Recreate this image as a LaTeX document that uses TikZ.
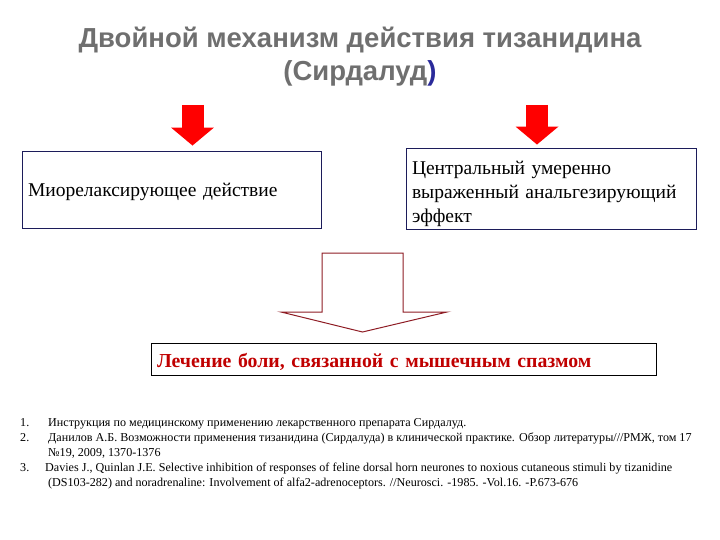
\documentclass[tikz,border=0pt]{standalone}
\usepackage{fontspec}
\setmainfont{Liberation Serif}
\newfontfamily\titlefont{Liberation Sans}
\usetikzlibrary{arrows.meta}
\definecolor{titlegray}{HTML}{6F6F6F}
\definecolor{boxnavy}{HTML}{1C1C5A}
\definecolor{hollowred}{HTML}{8E1C24}
\definecolor{textred}{HTML}{C00000}
\definecolor{parenblue}{HTML}{2A2A9A}
\begin{document}
\begin{tikzpicture}[x=1pt,y=1pt,
  topbox/.style={draw=boxnavy, line width=0.9pt, rectangle, inner sep=0pt},
  boxtext/.style={inner xsep=0pt, inner ysep=0pt, align=left, font=\fontsize{19.5}{24}\selectfont},
  redarrow/.style={draw=red, line width=22pt, -{Triangle[width=42pt,length=18pt]}, red},
  hollow/.style={draw=hollowred, line width=1pt, line join=miter},
  resbox/.style={draw=black, line width=0.9pt, rectangle, inner sep=0pt, minimum width=505pt, minimum height=32pt},
  restext/.style={inner sep=0pt, text width=493pt, align=left, font=\fontsize{19.8}{22}\selectfont\bfseries, text=textred},
  refnum/.style={anchor=base west, inner sep=0pt, font=\fontsize{12.1}{12}\selectfont},
  reftext/.style={anchor=base west, inner sep=0pt, font=\fontsize{12.1}{12}\selectfont}
]
\useasboundingbox (0,0) rectangle (720,-540);

% title
\node[font=\titlefont\bfseries\fontsize{27.5}{33}\selectfont, text=titlegray, align=center] (title) at (360,-57)
  {Двойной механизм действия тизанидина\\(Сирдалуд{\color{parenblue})}};

% boxes
\node[topbox, minimum width=299pt, minimum height=77pt] (lbox) at (171.5,-189.5) {};
\node[boxtext, text width=287pt] (ltext) at ([xshift=0pt,yshift=-2pt]lbox.center)
  {Миорелаксирующее действие};
\node[topbox, minimum width=290pt, minimum height=81pt] (rbox) at (551,-188.5) {};
\node[boxtext, text width=278pt] (rtext) at ([yshift=-5pt]rbox.center)
  {Центральный умеренно\\выраженный анальгезирующий\\эффект};

% red arrows
\coordinate (la) at (192.5,-105);
\coordinate (ra) at (537,-105);
\draw[redarrow, shorten >=5pt] (la) -- (la |- lbox.north);
\draw[redarrow, shorten >=3pt] (ra) -- (ra |- rbox.north);

% result box
\node[resbox] (res) at (403.5,-359) {};
\node[restext] (restxt) at ([yshift=-3pt]res.center) {Лечение боли, связанной с мышечным спазмом};

% hollow arrow
\draw[hollow] (322,-253) -- (403,-253) -- (403,-312) -- (447,-312) -- (362.5,-332) -- (281,-312) -- (322,-312) -- cycle;

% references
\node[refnum] (n1) at (20,-426) {1.};
\node[reftext] (r1) at (48,-426) {Инструкция по медицинскому применению лекарственного препарата Сирдалуд.};
\node[refnum] (n2) at (20,-441) {2.};
\node[reftext] (r2) at (48,-441) {Данилов А.Б. Возможности применения тизанидина (Сирдалуда) в клинической практике. Обзор литературы///РМЖ, том 17};
\node[reftext] (r2b) at (48,-456) {№19, 2009, 1370-1376};
\node[refnum] (n3) at (20,-471) {3.};
\node[reftext] (r3) at (45,-471) {Davies J., Quinlan J.E. Selective inhibition of responses of feline dorsal horn neurones to noxious cutaneous stimuli by tizanidine};
\node[reftext] (r3b) at (48,-486) {(DS103-282) and noradrenaline: Involvement of alfa2-adrenoceptors. //Neurosci. -1985. -Vol.16. -P.673-676};
\end{tikzpicture}
\end{document}
